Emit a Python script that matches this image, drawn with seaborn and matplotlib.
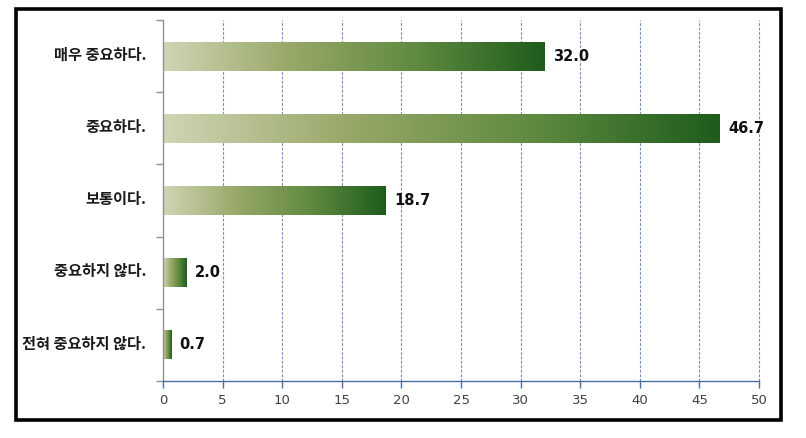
import numpy as np
import pandas as pd
import matplotlib
matplotlib.use("Agg")
import matplotlib.pyplot as plt
import matplotlib.transforms as mtransforms
import seaborn as sns
from matplotlib.colors import LinearSegmentedColormap
from matplotlib.patches import Rectangle

categories = ["매우 중요하다.", "중요하다.", "보통이다.", "중요하지 않다.", "전혀 중요하지 않다."]
values = [32.0, 46.7, 18.7, 2.0, 0.7]
xticks = [0, 5, 10, 15, 20, 25, 30, 35, 40, 45, 50]

sns.set_theme(style="white")
plt.rcParams['font.family'] = ['Noto Sans CJK KR', 'DejaVu Sans']

df = pd.DataFrame({"category": categories, "value": values})

fig = plt.figure(figsize=(8.06, 4.38), dpi=100)
ax = fig.add_axes([163/806, 1-381/438, (759-163)/806, (381-20)/438])

sns.barplot(data=df, y="category", x="value", orient="h", ax=ax, width=0.4,
            color="#8fa060", saturation=1)

cmap = LinearSegmentedColormap.from_list("g", ["#d0d5b5", "#98a868", "#5f8a40", "#1e5c1c"])
grad = np.linspace(0, 1, 256).reshape(1, -1)
for p in ax.patches:
    x0, y0 = p.get_x(), p.get_y()
    w, h = p.get_width(), p.get_height()
    p.set_facecolor("none")
    p.set_edgecolor("none")
    ax.imshow(grad, cmap=cmap, aspect="auto", extent=(x0, x0 + w, y0 + h, y0),
              interpolation="bicubic", zorder=2)
ax.set_xlim(0, 50)
ax.set_ylim(4.5, -0.5)

for i, v in enumerate(values):
    ax.text(v + 0.7, i, f"{v:.1f}", va="center", ha="left", fontsize=10.5,
            fontweight="bold", color="#111111", zorder=3, family=["DejaVu Sans"])

ax.set_xticks(xticks)
ax.set_xticklabels([str(t) for t in xticks], fontsize=9.5, color="#404040", family=["DejaVu Sans"])
ax.set_xlabel("")
ax.set_ylabel("")
ax.set_yticks(range(len(categories)))
ax.set_yticklabels(categories, fontsize=11, fontweight="bold", color="#1a1a1a", va="center_baseline")
ax.set_yticks(np.arange(-0.5, 5.0, 1.0), minor=True)
ax.tick_params(axis="y", which="major", length=0, pad=12)
ax.tick_params(axis="y", which="minor", length=5, width=1, color="#909090", direction="out", left=True)
ax.tick_params(axis="x", which="major", length=5, width=1, color="#4a6fa0", direction="out", bottom=True, pad=4)

offset = mtransforms.ScaledTranslation(0, 2/72, fig.dpi_scale_trans)
for lbl in ax.get_yticklabels():
    lbl.set_transform(lbl.get_transform() + offset)

for t in xticks[1:]:
    ax.axvline(t, color="#7a90b5", lw=0.8, ls=(0, (2.5, 1.5)), zorder=1, clip_on=False)

for s in ["top", "right"]:
    ax.spines[s].set_visible(False)
ax.spines["left"].set_color("#909090")
ax.spines["left"].set_linewidth(1)
ax.spines["bottom"].set_color("#4a6fa0")
ax.spines["bottom"].set_linewidth(1)

frame = Rectangle((15.5/806, 1-420/438), (780.5-15.5)/806, (420-8.5)/438,
                  transform=fig.transFigure, fill=False, edgecolor="black", linewidth=2.6)
fig.patches.append(frame)

fig.savefig("out.png", dpi=100)
